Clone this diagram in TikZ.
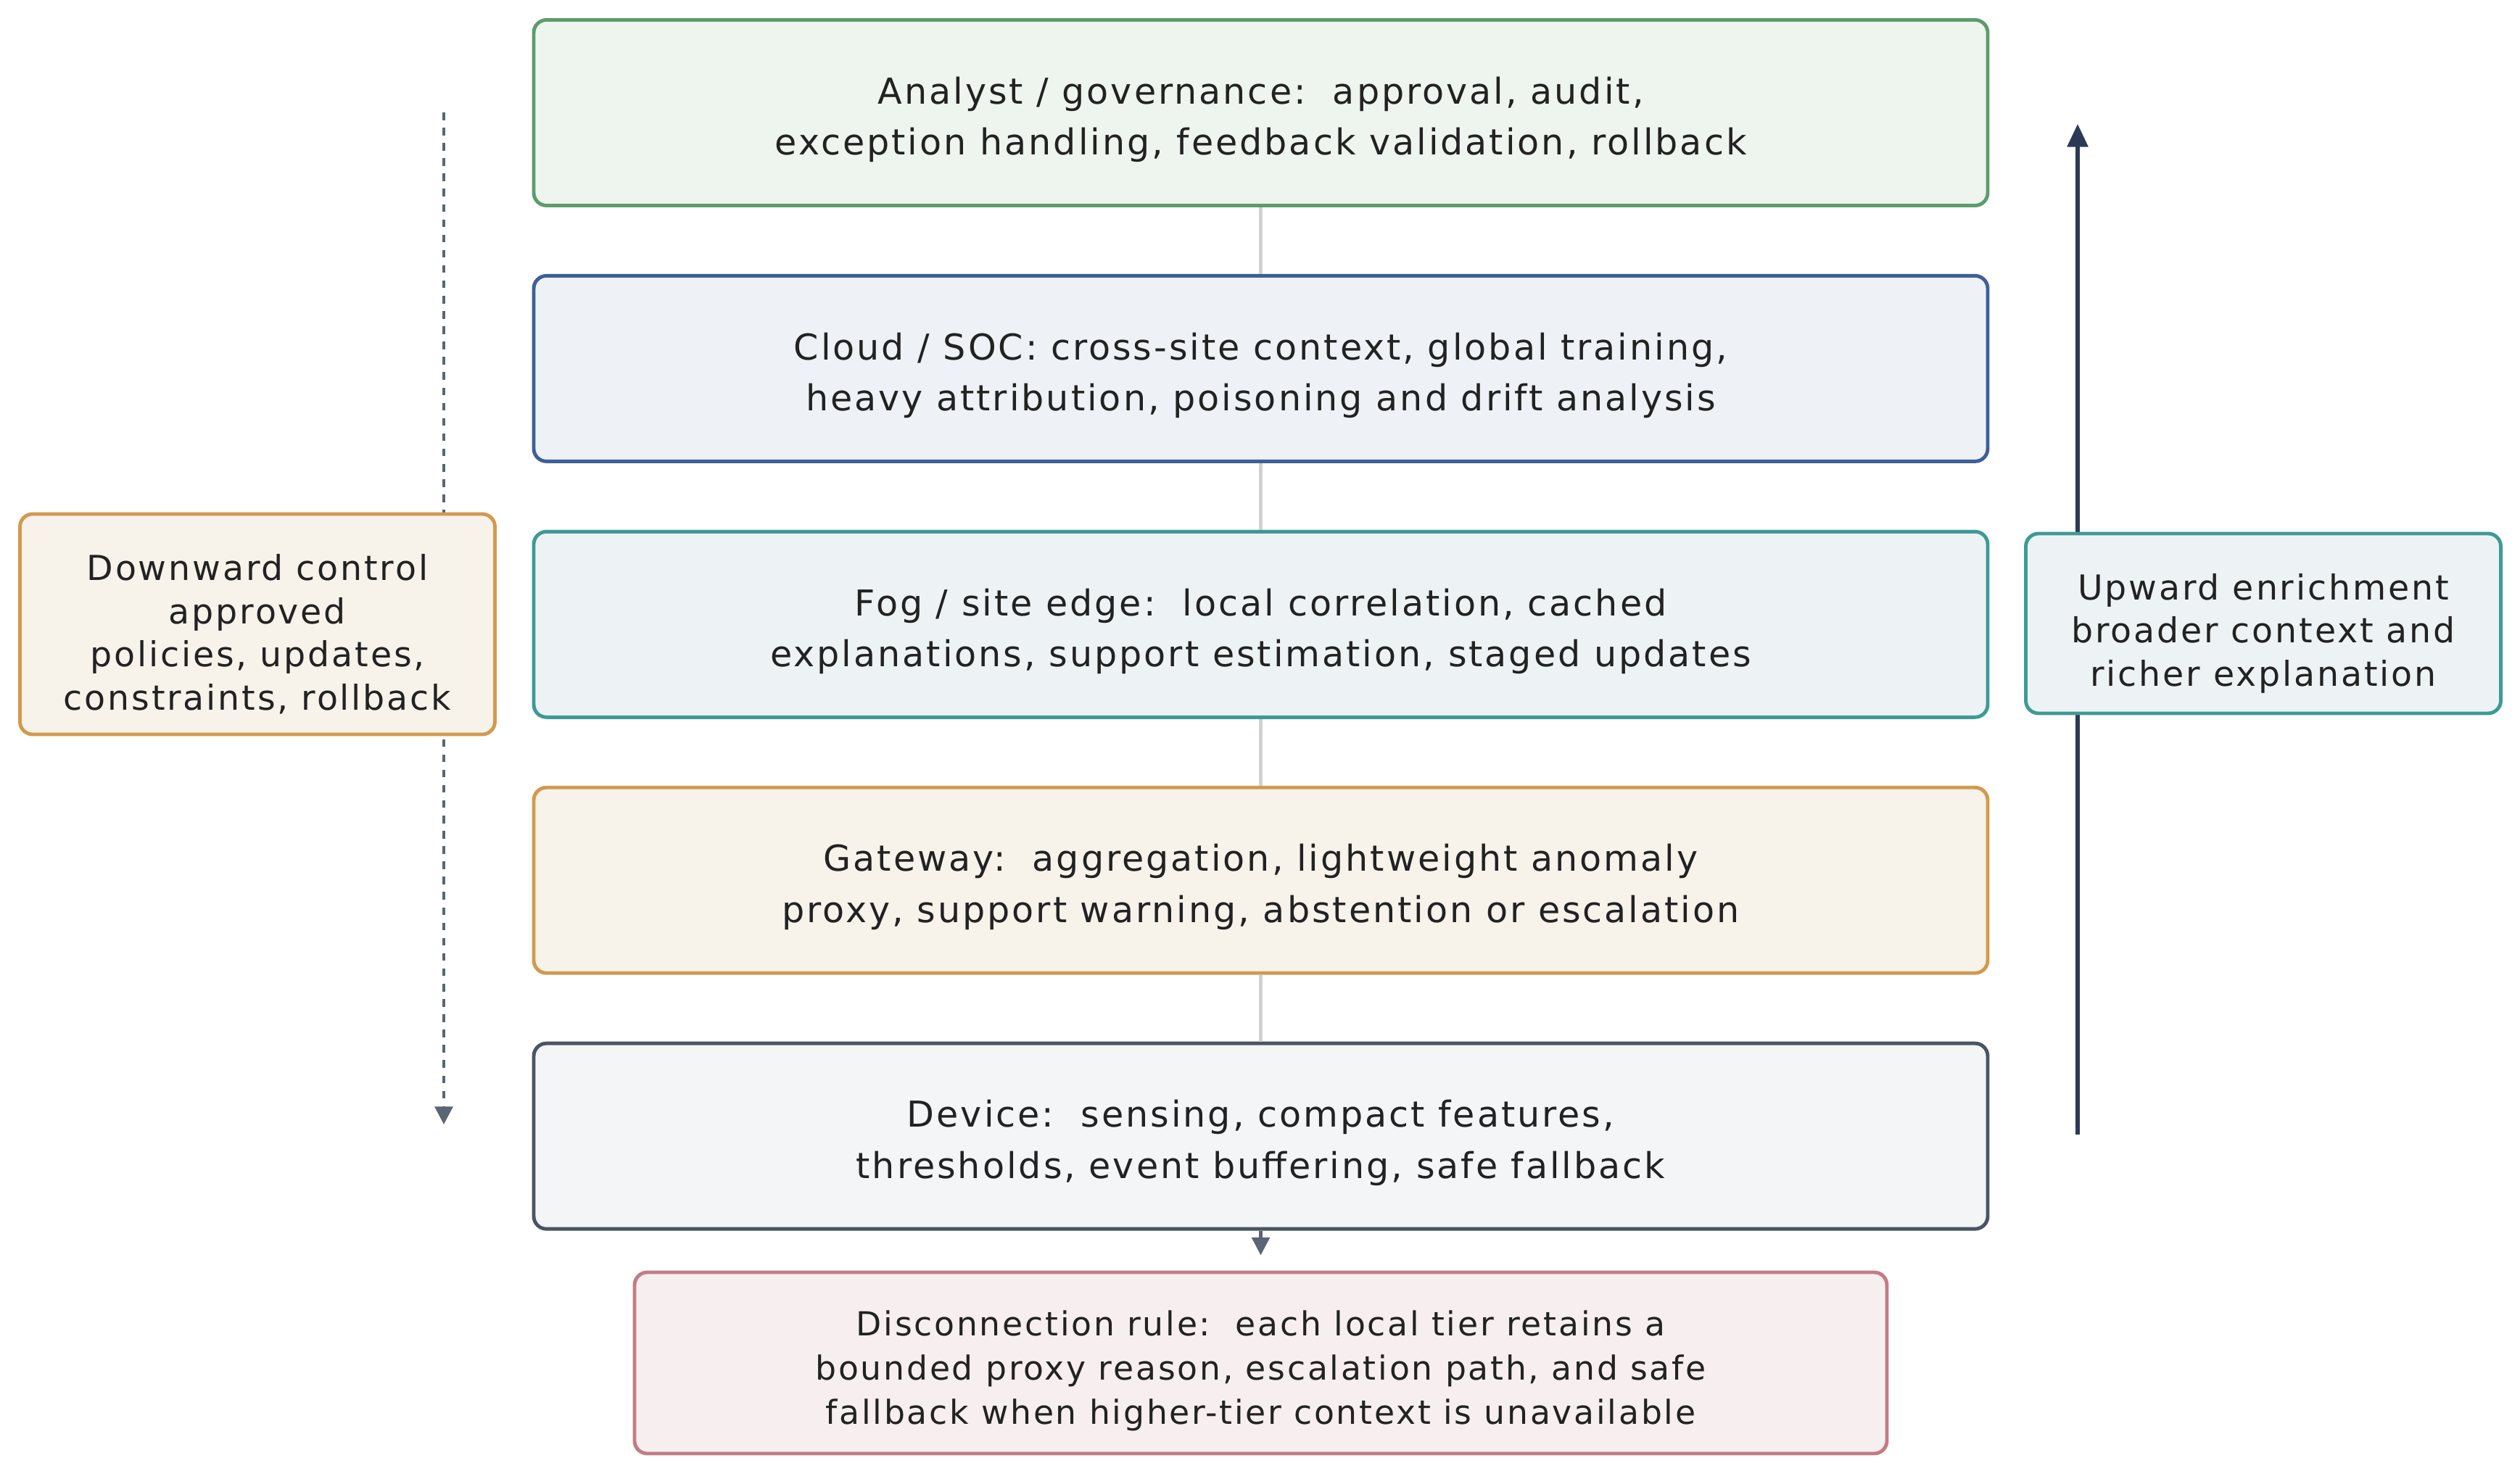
\documentclass[tikz,border=0pt]{standalone}
\usepackage{fontspec}
\setmainfont[LetterSpace=6]{DejaVu Sans}
\usetikzlibrary{positioning,arrows.meta}
\definecolor{greenline}{HTML}{5E9B6E}
\definecolor{greenfill}{HTML}{EEF4EE}
\definecolor{blueline}{HTML}{3F5F95}
\definecolor{bluefill}{HTML}{EEF2F6}
\definecolor{tealline}{HTML}{3E9A96}
\definecolor{tealfill}{HTML}{EDF3F5}
\definecolor{orangeline}{HTML}{D29A4E}
\definecolor{orangefill}{HTML}{F7F2EA}
\definecolor{slateline}{HTML}{4A5466}
\definecolor{slatefill}{HTML}{F3F5F7}
\definecolor{redline}{HTML}{C27C84}
\definecolor{redfill}{HTML}{F7EFEF}
\definecolor{textdark}{HTML}{222222}
\definecolor{arrowgray}{HTML}{5A6576}
\definecolor{arrownavy}{HTML}{2B3A55}
\tikzstyle{tierbox} = [
    rectangle,
    rounded corners=5pt,
    line width=1.4pt,
    minimum width=20.05cm,
    minimum height=2.56cm,
    align=center,
    text=textdark,
    font=\fontsize{14}{20}\selectfont,
    text height=36.5pt,
    text depth=3.5pt
    ]
\tikzstyle{sidebox} = [
    rectangle,
    rounded corners=5pt,
    line width=1.4pt,
    minimum width=6.55cm,
    align=center,
    text=textdark,
    font=\fontsize{13.5}{17}\selectfont,
    text depth=3.5pt
    ]
\tikzstyle{link} = [draw=black!18, line width=1.2pt]

\begin{document}
\begin{tikzpicture}
\useasboundingbox (0,0) rectangle (34.75,20.46);

% tiers
\node [tierbox, draw=greenline, fill=greenfill] (analyst) at (17.385,18.905)
    {Analyst / governance:\ \ approval, audit,\\exception handling, feedback validation, rollback};
\node [tierbox, draw=blueline, fill=bluefill, below=0.92cm of analyst] (cloud)
    {Cloud / SOC:\ cross-site context, global training,\\heavy attribution, poisoning and drift analysis};
\node [tierbox, draw=tealline, fill=tealfill, below=0.92cm of cloud] (fog)
    {Fog / site edge:\ \ local correlation, cached\\explanations, support estimation, staged updates};
\node [tierbox, draw=orangeline, fill=orangefill, below=0.92cm of fog] (gateway)
    {Gateway:\ \ aggregation, lightweight anomaly\\proxy, support warning, abstention or escalation};
\node [tierbox, draw=slateline, fill=slatefill, below=0.92cm of gateway] (device)
    {Device:\ \ sensing, compact features,\\thresholds, event buffering, safe fallback};
\node [tierbox, draw=redline, fill=redfill, minimum width=17.27cm, minimum height=2.5cm,
    font=\fontsize{13}{17.3}\selectfont, text height=51.5pt] (rule) at (17.385,1.66)
    {Disconnection rule:\ \ each local tier retains a\\bounded proxy reason, escalation path, and safe\\fallback when higher-tier context is unavailable};

\draw [link] (analyst) -- (cloud);
\draw [link] (cloud) -- (fog);
\draw [link] (fog) -- (gateway);
\draw [link] (gateway) -- (device);
\draw [arrowgray, line width=1.2pt, -{Triangle[length=7pt,width=7pt]}, shorten >=6pt] (device) -- (rule);

% control and enrichment
\coordinate (downtop) at (6.12,18.91);
\coordinate (downend) at (6.12,4.95);
\draw [arrowgray, line width=1.2pt, dashed, -{Triangle[length=7pt,width=7pt]}] (downtop) -- (downend);
\node [sidebox, draw=orangeline, fill=orangefill, minimum height=3.04cm, text height=71pt] (down) at (3.55,11.85)
    {Downward control\\approved\\policies, updates,\\constraints, rollback};

\coordinate (upstart) at (28.65,4.81);
\coordinate (uptop) at (28.65,18.75);
\draw [arrownavy, line width=1.6pt, -{Triangle[length=9pt,width=8pt]}] (upstart) -- (uptop);
\node [sidebox, draw=tealline, fill=tealfill, minimum height=2.48cm, text height=52.8pt] (up) at (31.21,11.86)
    {Upward enrichment\\broader context and\\richer explanation};
\end{tikzpicture}
\end{document}
